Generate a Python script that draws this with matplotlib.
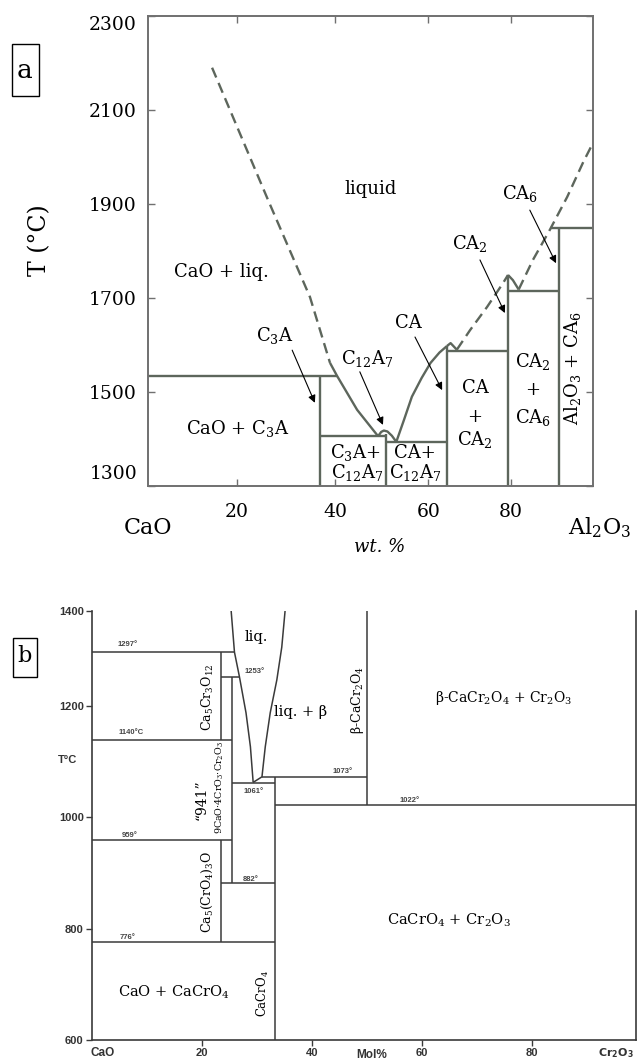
import matplotlib.pyplot as plt
from matplotlib.patches import Rectangle

W, H = 637, 1063

# ---------------- panel a : CaO - Al2O3 (wt. %) ----------------
liq_dash1_x = [14.4, 27.0, 36.4, 40.9]
liq_dash1_T = [2190, 1908, 1702, 1562]
liq_c3a_x = [40.9, 42.5, 47.0, 51.7]
liq_c3a_T = [1562, 1534, 1462, 1406]
bump_c12a7_x = [51.7, 52.4, 53.0, 53.8, 54.8, 55.8]
bump_c12a7_T = [1406, 1415, 1418, 1416, 1407, 1394]
liq_ca_x = [55.8, 57.5, 59.3, 61.5, 63.5, 65.5, 67.2]
liq_ca_T = [1394, 1440, 1490, 1530, 1562, 1584, 1598]
bump_ca_x = [67.2, 68.0, 69.4]
bump_ca_T = [1598, 1604, 1590]
liq_dash2_x = [69.4, 72.4, 76.2, 79.8, 80.9]
liq_dash2_T = [1590, 1632, 1681, 1732, 1749]
bump_ca2_x = [80.9, 82.0, 83.3]
bump_ca2_T = [1749, 1738, 1718]
liq_dash3_x = [83.3, 86.5, 90.3, 94.2, 97.8, 100]
liq_dash3_T = [1718, 1781, 1845, 1915, 1989, 2030]

# invariant lines: (T, x from, x to) and compounds: (x, T from, T to)
a_hlines = [(1535, 0, 42.5), (1406, 38.7, 53.5), (1394, 53.5, 67.2),
            (1587, 67.2, 80.9), (1715, 80.9, 92.4), (1849, 90.3, 100)]
a_vlines = [(38.7, 1300, 1535), (53.5, 1300, 1410), (67.2, 1300, 1598),
            (80.9, 1300, 1749), (92.4, 1300, 1849)]

a_yticks = [1500, 1700, 1900, 2100]
a_xticks = [20, 42, 63, 81.5]
a_xticklabels = ['20', '40', '60', '80']

a_labels = [  # x, T, text, rotation
    (16.6, 1755, 'CaO + liq.', 0),
    (50.1, 1932, 'liquid', 0),
    (83.6, 1923, 'CA$_6$', 0),
    (72.4, 1817, 'CA$_2$', 0),
    (58.4, 1647, 'CA', 0),
    (28.5, 1621, 'C$_3$A', 0),
    (49.2, 1572, 'C$_{12}$A$_7$', 0),
    (20.2, 1423, 'CaO + C$_3$A', 0),
    (46.6, 1372, 'C$_3$A+', 0),
    (47.0, 1328, 'C$_{12}$A$_7$', 0),
    (60.0, 1370, 'CA+', 0),
    (60.0, 1328, 'C$_{12}$A$_7$', 0),
    (73.5, 1509, 'CA', 0),
    (73.5, 1447, '+', 0),
    (73.5, 1398, 'CA$_2$', 0),
    (86.5, 1564, 'CA$_2$', 0),
    (86.5, 1504, '+', 0),
    (86.5, 1445, 'CA$_6$', 0),
    (95.5, 1551, 'Al$_2$O$_3$ + CA$_6$', 90),
]
a_arrows = [  # start (x, T) -> end (x, T)
    ((32.4, 1589), (37.5, 1477)),
    ((47.6, 1543), (52.8, 1430)),
    ((60.0, 1617), (66.1, 1504)),
    ((74.6, 1781), (80.2, 1668)),
    ((85.8, 1887), (91.7, 1774)),
]

# ---------------- panel b : CaO - Cr2O3 (Mol%) ----------------
liqb_left_x = [25.3, 25.9, 26.8, 28.0, 28.8, 29.3]
liqb_left_T = [1371, 1297, 1253, 1188, 1127, 1063]
liqb_right_x = [35.1, 34.5, 33.6, 32.4, 31.5, 30.9, 29.3]
liqb_right_T = [1371, 1306, 1247, 1188, 1127, 1073, 1063]

b_hlines = [(1297, 0, 25.9), (1253, 23.5, 26.8), (1140, 0, 25.4),
            (1061, 25.4, 33.3), (1073, 30.9, 50), (1022, 33.3, 98.9),
            (959, 0, 25.4), (882, 23.5, 33.3), (776, 0, 33.3)]
b_vlines = [(23.5, 1140, 1297), (25.4, 882, 1253), (33.3, 600, 1073),
            (50, 1022, 1371), (23.5, 776, 959)]

b_yticks = [600, 800, 1000, 1200, 1371]
b_yticklabels = ['600', '800', '1000', '1200', '1400']
b_xticks = [20, 40, 60, 80]

b_temps = [  # x, T, text
    (6.5, 1310, '1297°'), (29.5, 1263, '1253°'), (7.1, 1152, '1140°C'),
    (29.3, 1046, '1061°'), (45.6, 1082, '1073°'), (57.8, 1031, '1022°'),
    (6.9, 968, '959°'), (28.9, 889, '882°'), (6.5, 785, '776°'),
]
b_labels = [  # x, T, text, rotation, size
    (29.8, 1324, 'liq.', 0, 10.5),
    (38.0, 1189, 'liq. + β', 0, 10.5),
    (48.2, 1211, 'β-CaCr$_2$O$_4$', 90, 9),
    (74.9, 1215, 'β-CaCr$_2$O$_4$ + Cr$_2$O$_3$', 0, 10),
    (21.1, 1216, 'Ca$_5$Cr$_3$O$_{12}$', 90, 9),
    (20.0, 1031, '“941”', 90, 10),
    (23.3, 1053, '9CaO·4CrO$_3$·Cr$_2$O$_3$', 90, 6.8),
    (20.9, 866, 'Ca$_5$(CrO$_4$)$_3$O', 90, 9),
    (31.1, 684, 'CaCrO$_4$', 90, 8.5),
    (14.9, 686, 'CaO + CaCrO$_4$', 0, 10.5),
    (64.9, 816, 'CaCrO$_4$ + Cr$_2$O$_3$', 0, 10.5),
]

SERIF = 'DejaVu Serif'
SANS = 'Liberation Sans'
col_a = '#5d665c'
col_b = '#3a3a3a'

fig = plt.figure(figsize=(W / 100, H / 100), dpi=100)


def ftext(px, py, s, **kw):
    fig.text(px / W, 1 - py / H, s, **kw)


# ---- panel a ----
axa = fig.add_axes([148 / W, 1 - 486 / H, (593 - 148) / W, (486 - 16) / H])
axa.set_xlim(0, 100)
axa.set_ylim(1300, 2300)
for sp in axa.spines.values():
    sp.set_color('#707070')
    sp.set_linewidth(1.4)

lk = dict(color=col_a, lw=1.7, solid_capstyle='butt')
dk = dict(color=col_a, lw=1.7, ls=(0, (4.5, 2.5)))
axa.plot(liq_dash1_x, liq_dash1_T, **dk)
axa.plot(liq_c3a_x, liq_c3a_T, **lk)
axa.plot(bump_c12a7_x, bump_c12a7_T, **lk)
axa.plot(liq_ca_x, liq_ca_T, **lk)
axa.plot(bump_ca_x, bump_ca_T, **lk)
axa.plot(liq_dash2_x, liq_dash2_T, **dk)
axa.plot(bump_ca2_x, bump_ca2_T, **lk)
axa.plot(liq_dash3_x, liq_dash3_T, **dk)
for T, x0, x1 in a_hlines:
    axa.plot([x0, x1], [T, T], **lk)
for x, T0, T1 in a_vlines:
    axa.plot([x, x], [T0, T1], **lk)

for x, T, s, rot in a_labels:
    axa.text(x, T, s, ha='center', va='center', rotation=rot, fontsize=13,
             family=SERIF, math_fontfamily='dejavuserif')
for (x0, T0), (x1, T1) in a_arrows:
    axa.annotate('', xy=(x1, T1), xytext=(x0, T0),
                 arrowprops=dict(arrowstyle='-|>', color='k', lw=0.8,
                                 mutation_scale=11, shrinkA=0, shrinkB=0))

axa.set_yticks([1300] + a_yticks + [2300])
axa.set_yticklabels([''] + [str(t) for t in a_yticks] + [''])
axa.set_xticks(a_xticks)
axa.set_xticklabels(a_xticklabels)
axa.tick_params(direction='in', length=5, width=1, color='#707070',
                top=True, right=True, labelsize=13.5)
axa.tick_params(axis='y', pad=8)
axa.tick_params(axis='x', pad=12)
for lab in axa.get_xticklabels() + axa.get_yticklabels():
    lab.set_family(SERIF)
ftext(137, 25, '2300', ha='right', va='center', fontsize=13.5, family=SERIF)
ftext(137, 474, '1300', ha='right', va='center', fontsize=13.5, family=SERIF)

fig.patches.append(Rectangle((12 / W, 1 - 96 / H), 27 / W, 52 / H,
                             transform=fig.transFigure, fill=False,
                             edgecolor='k', lw=1))
ftext(25, 71, 'a', ha='center', va='center', fontsize=19, family=SERIF)
ftext(40, 240, 'T (°C)', ha='center', va='center', rotation=90, fontsize=17,
      family=SERIF)
ftext(148, 528, 'CaO', ha='center', va='center', fontsize=16, family=SERIF)
ftext(600, 528, 'Al$_2$O$_3$', ha='center', va='center', fontsize=16,
      family=SERIF, math_fontfamily='dejavuserif')
ftext(380, 547, 'wt. %', ha='center', va='center', fontsize=13, style='italic',
      family=SERIF)

# ---- panel b ----
axb = fig.add_axes([92 / W, 1 - 1040 / H, (636 - 92) / W, (1040 - 611) / H])
axb.set_xlim(0, 98.9)
axb.set_ylim(600, 1371)
axb.spines['top'].set_visible(False)
for k in ['left', 'right', 'bottom']:
    axb.spines[k].set_color(col_b)
    axb.spines[k].set_linewidth(1.2)

bk = dict(color=col_b, lw=1.1, solid_capstyle='butt')
axb.plot(liqb_left_x, liqb_left_T, **bk)
axb.plot(liqb_right_x, liqb_right_T, **bk)
for T, x0, x1 in b_hlines:
    axb.plot([x0, x1], [T, T], **bk)
for x, T0, T1 in b_vlines:
    axb.plot([x, x], [T0, T1], **bk)

for x, T, s in b_temps:
    axb.text(x, T, s, ha='center', va='center', fontsize=5.5,
             fontweight='bold', family=SANS, color='#444444')
for x, T, s, rot, fs in b_labels:
    axb.text(x, T, s, ha='center', va='center', rotation=rot, fontsize=fs,
             family=SERIF, math_fontfamily='dejavuserif')

axb.set_yticks(b_yticks)
axb.set_yticklabels(b_yticklabels)
axb.set_xticks(b_xticks)
axb.tick_params(direction='out', length=4, width=1, color=col_b,
                labelsize=8, labelcolor='#333333', pad=2)
for lab in axb.get_xticklabels() + axb.get_yticklabels():
    lab.set_family(SANS)
    lab.set_fontweight('bold')

fig.patches.append(Rectangle((13 / W, 1 - 677 / H), 24 / W, 39 / H,
                             transform=fig.transFigure, fill=False,
                             edgecolor='k', lw=1))
ftext(25, 656, 'b', ha='center', va='center', fontsize=16, family=SERIF)
ftext(67, 760, 'T°C', ha='center', va='center', fontsize=8, fontweight='bold',
      family=SANS, color='#333333')
ftext(103, 1053, 'CaO', ha='center', va='center', fontsize=8.5,
      fontweight='bold', family=SANS, color='#333333')
ftext(634, 1053, r'$\mathbf{Cr_2O_3}$', ha='right', va='center', fontsize=8,
      math_fontfamily='dejavusans', color='#333333')
ftext(372, 1055, 'Mol%', ha='center', va='center', fontsize=8.5,
      fontweight='bold', family=SANS, color='#333333')

fig.savefig('out.png', dpi=100)
